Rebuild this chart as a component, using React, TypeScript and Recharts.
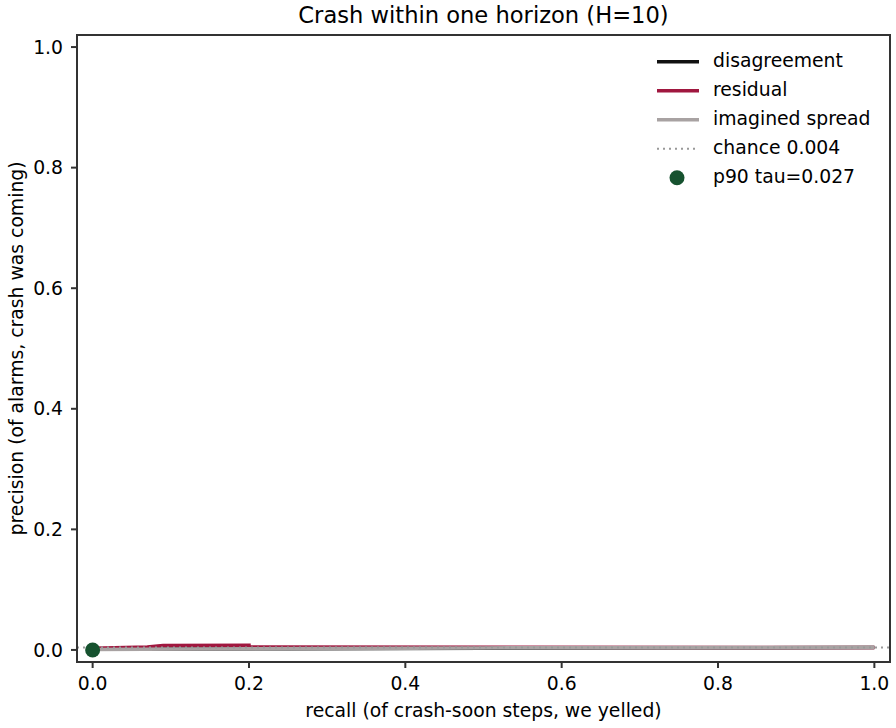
import { ComposedChart, Line, Scatter, XAxis, YAxis, ReferenceLine, ReferenceArea } from "recharts";

// precision / recall curves
const DISAGREE_RECALL = [0, 0.25, 0.5, 0.75, 1.0];
const DISAGREE_PREC = [0.001, 0.002, 0.003, 0.0035, 0.004];
const RESIDUAL_RECALL = [0, 0.07, 0.09, 0.2, 0.2, 1.0];
const RESIDUAL_PREC = [0.003, 0.005, 0.0075, 0.0078, 0.0048, 0.004];
const SPREAD_RECALL = [0, 0.2, 0.5, 0.8, 1.0];
const SPREAD_PREC = [0.0008, 0.002, 0.0034, 0.004, 0.0043];
const CHANCE = 0.004;
const TAU_RECALL = [0];
const TAU_PREC = [0];

const X_TICKS = [0, 0.2, 0.4, 0.6, 0.8, 1.0];
const Y_TICKS = [0, 0.2, 0.4, 0.6, 0.8, 1.0];
const DOMAIN: [number, number] = [-0.02, 1.02];

const LEGEND = [
  { name: "disagreement", color: "#111111", kind: "line" },
  { name: "residual", color: "#a0173f", kind: "line" },
  { name: "imagined spread", color: "#a8a2a2", kind: "line" },
  { name: `chance ${CHANCE.toFixed(3)}`, color: "#999999", kind: "dotted" },
  { name: "p90 tau=0.027", color: "#16522f", kind: "dot" }
];

const FONT = "DejaVu Sans";
const SPINE = "#333333";

const toPoints = (xs: number[], ys: number[]) =>
  xs.map((x, i) => ({ recall: x, precision: ys[i] }));

const disagreement = toPoints(DISAGREE_RECALL, DISAGREE_PREC);
const residual = toPoints(RESIDUAL_RECALL, RESIDUAL_PREC);
const spread = toPoints(SPREAD_RECALL, SPREAD_PREC);
const tau = toPoints(TAU_RECALL, TAU_PREC);

const tickStyle = { fill: "#000", fontSize: 18.8, fontFamily: FONT };
const lineStyle = { stroke: SPINE, strokeWidth: 2 };

export default function App() {
  return (
    <div style={{ position: "absolute", left: 0, top: 0, width: 896, height: 728, background: "#fff" }}>
      <ComposedChart
        width={896}
        height={728}
        margin={{ top: 35, right: 6, left: 0, bottom: 0 }}
      >
        <XAxis
          dataKey="recall"
          type="number"
          domain={DOMAIN}
          ticks={X_TICKS}
          allowDataOverflow
          height={66}
          tick={tickStyle}
          tickLine={lineStyle}
          axisLine={lineStyle}
          tickSize={6}
          tickMargin={9}
          tickFormatter={(v: number) => v.toFixed(1)}
        />
        <YAxis
          dataKey="precision"
          type="number"
          domain={DOMAIN}
          ticks={Y_TICKS}
          allowDataOverflow
          width={77}
          tick={tickStyle}
          tickLine={lineStyle}
          axisLine={lineStyle}
          tickSize={6}
          tickMargin={8}
          tickFormatter={(v: number) => v.toFixed(1)}
        />
        {/* axes frame */}
        <ReferenceArea
          x1={DOMAIN[0]}
          x2={DOMAIN[1]}
          y1={DOMAIN[0]}
          y2={DOMAIN[1]}
          fill="none"
          stroke={SPINE}
          strokeWidth={2}
          fillOpacity={0}
        />
        <Line
          data={disagreement}
          dataKey="precision"
          type="linear"
          stroke="#111111"
          strokeWidth={3.5}
          dot={false}
          isAnimationActive={false}
        />
        <Line
          data={residual}
          dataKey="precision"
          type="linear"
          stroke="#a0173f"
          strokeWidth={3.5}
          dot={false}
          isAnimationActive={false}
        />
        <Line
          data={spread}
          dataKey="precision"
          type="linear"
          stroke="#a8a2a2"
          strokeWidth={3.5}
          dot={false}
          isAnimationActive={false}
        />
        <ReferenceLine
          y={CHANCE}
          stroke="#999999"
          strokeWidth={2}
          strokeDasharray="2 4"
        />
        <Scatter
          data={tau}
          dataKey="precision"
          fill="#16522f"
          isAnimationActive={false}
          shape={(p: any) => <circle cx={p.cx} cy={p.cy} r={7.5} fill="#16522f" />}
        />
      </ComposedChart>
      <svg
        width={896}
        height={728}
        style={{ position: "absolute", left: 0, top: 0, pointerEvents: "none" }}
        fontFamily={FONT}
      >
        <text x={483.5} y={23} fontSize={22.6} textAnchor="middle" fill="#000">
          Crash within one horizon (H=10)
        </text>
        <text x={483.5} y={717} fontSize={18.8} textAnchor="middle" fill="#000">
          recall (of crash-soon steps, we yelled)
        </text>
        <text
          x={23}
          y={348.5}
          fontSize={18.8}
          textAnchor="middle"
          fill="#000"
          transform="rotate(-90 23 348.5)"
        >
          precision (of alarms, crash was coming)
        </text>
        {LEGEND.map((item, i) => {
          const cy = 61.7 + i * 29;
          return (
            <g key={item.name}>
              {item.kind === "line" && (
                <line x1={657} x2={699} y1={cy} y2={cy} stroke={item.color} strokeWidth={3.5} />
              )}
              {item.kind === "dotted" && (
                <line x1={657} x2={699} y1={cy} y2={cy} stroke={item.color} strokeWidth={2} strokeDasharray="2 4" />
              )}
              {item.kind === "dot" && <circle cx={677} cy={cy} r={7.5} fill={item.color} />}
              <text x={713} y={cy + 5.5} fontSize={18.8} fill="#000">
                {item.name}
              </text>
            </g>
          );
        })}
      </svg>
    </div>
  );
}
